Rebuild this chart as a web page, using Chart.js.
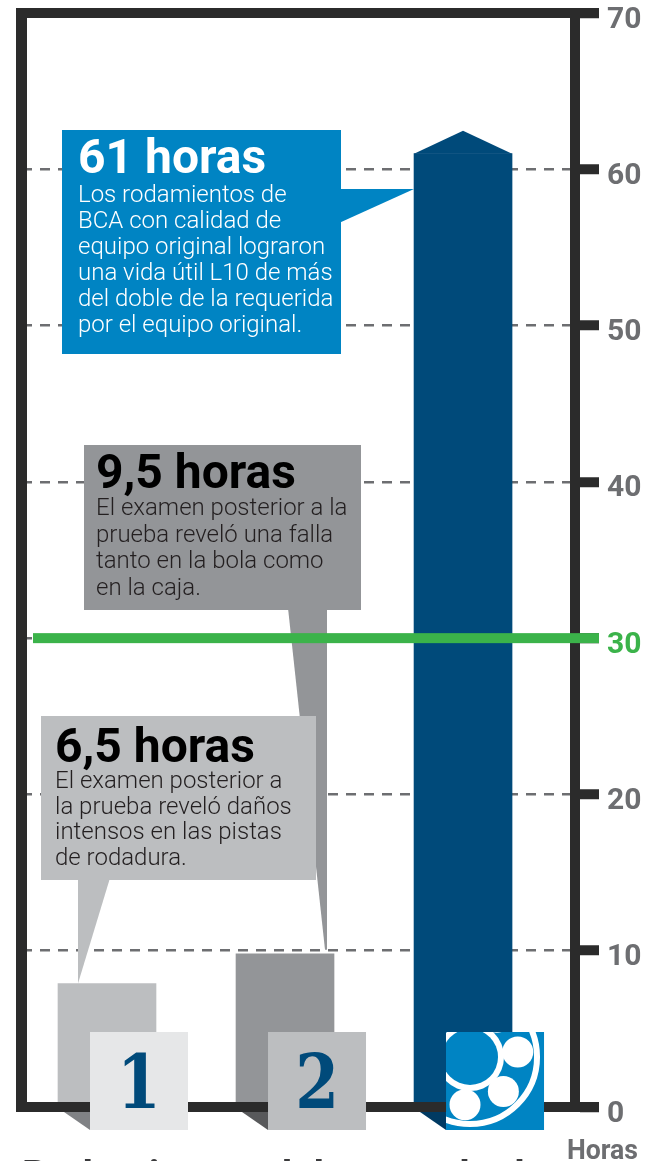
<!DOCTYPE html>
<html lang="es">
<head>
<meta charset="utf-8">
<title>Vida útil L10 - horas</title>
<script src="https://cdn.jsdelivr.net/npm/chart.js@4.4.1/dist/chart.umd.min.js"></script>
<style>
    html, body { margin: 0; padding: 0; background: #fff; }
    #wrap { position: relative; width: 656px; height: 1161px; overflow: hidden; }
</style>
</head>
<body>
<div id="wrap"><canvas id="horasChart"></canvas></div>
<script>
// Datos del gráfico
const categorias = ['1', '2', 'BCA'];
const horas = [7.9, 9.8, 61];
const ticksHoras = [0, 10, 20, 30, 40, 50, 60, 70];
const limiteRequerido = 30;
const titulos = ['6,5 horas', '9,5 horas', '61 horas'];
const textos = [
    ['El examen posterior a', 'la prueba reveló daños', 'intensos en las pistas', 'de rodadura.'],
    ['El examen posterior a la', 'prueba reveló una falla', 'tanto en la bola como', 'en la caja.'],
    ['Los rodamientos de', 'BCA con calidad de', 'equipo original lograron', 'una vida útil L10 de más', 'del doble de la requerida', 'por el equipo original.']
];

// Colores
const coloresBarras = ['#bcbec0', '#939598', '#004a7a'];
const coloresSombra = ['#808285', '#58595b', '#003a62'];
const coloresEtiqueta = ['#e6e7e8', '#bcbec0', '#0084c3'];
const negro = '#2b2b2b';
const gris = '#6d6e71';
const verde = '#3bb34a';

// Cajas de texto (posición en píxeles)
const cajas = [
    { x: 41, y: 716, w: 275, h: 164, fondo: '#bcbec0', tx: 55, ty: 762, by: 788, lh: 25.7, titulo: '#000', texto: '#231f20' },
    { x: 84, y: 445, w: 277, h: 165, fondo: '#939598', tx: 96, ty: 488, by: 515, lh: 26.5, titulo: '#000', texto: '#231f20' },
    { x: 62, y: 130, w: 279, h: 224, fondo: '#0084c3', tx: 78, ty: 173, by: 202, lh: 26, titulo: '#fff', texto: '#fff' }
];

Chart.defaults.font.family = 'Roboto, "Open Sans", sans-serif';

function poligono(ctx, pts, color) {
    ctx.beginPath();
    ctx.moveTo(pts[0][0], pts[0][1]);
    for (let i = 1; i < pts.length; i++) ctx.lineTo(pts[i][0], pts[i][1]);
    ctx.closePath();
    ctx.fillStyle = color;
    ctx.fill();
}

function dibujarCaja(ctx, c, i) {
    ctx.fillStyle = c.fondo;
    ctx.fillRect(c.x, c.y, c.w, c.h);
    ctx.textAlign = 'left';
    ctx.textBaseline = 'alphabetic';
    ctx.fillStyle = c.titulo;
    ctx.font = 'bold 48px Roboto';
    ctx.fillText(titulos[i], c.tx, c.ty);
    ctx.fillStyle = c.texto;
    ctx.font = '300 24px Roboto';
    textos[i].forEach((linea, k) => ctx.fillText(linea, c.tx, c.by + k * c.lh));
}

// Icono del rodamiento
function dibujarRodamiento(ctx, x0, y0, lado) {
    ctx.save();
    ctx.fillStyle = '#0084c3';
    ctx.fillRect(x0, y0, lado, lado);
    ctx.beginPath();
    ctx.rect(x0, y0, lado, lado);
    ctx.clip();
    const cx = x0 + 24, cy = y0 + 25;
    ctx.strokeStyle = '#fff';
    ctx.lineWidth = 6;
    ctx.beginPath();
    ctx.arc(cx, cy, 67, 0, Math.PI * 2);
    ctx.stroke();
    ctx.fillStyle = '#fff';
    [96, 46, -6, -56, 146].forEach(a => {
        const r = a * Math.PI / 180;
        ctx.beginPath();
        ctx.arc(cx + 48 * Math.cos(r), cy + 48 * Math.sin(r), 15.5, 0, Math.PI * 2);
        ctx.fill();
    });
    ctx.beginPath();
    ctx.arc(cx, cy, 34, 0, Math.PI * 2);
    ctx.fill();
    ctx.fillStyle = '#0084c3';
    ctx.beginPath();
    ctx.arc(cx, cy, 28, 0, Math.PI * 2);
    ctx.fill();
    ctx.restore();
}

const decoracion = {
    id: 'decoracion',
    afterDatasetsDraw(chart) {
        const ctx = chart.ctx;
        const ca = chart.chartArea;
        const yScale = chart.scales.y;
        const barras = chart.getDatasetMeta(0).data;
        const y0 = yScale.getPixelForValue(0);
        ctx.save();

        // punta de flecha sobre la barra BCA
        const b3 = barras[2];
        poligono(ctx, [[b3.x - b3.width / 2, b3.y], [b3.x, b3.y - 23], [b3.x + b3.width / 2, b3.y]], coloresBarras[2]);

        // globo 2
        const b2 = barras[1];
        poligono(ctx, [[288, 608], [b2.x + 42, 608], [b2.x + 42, b2.y - 4], [b2.x + 40, b2.y - 4]], cajas[1].fondo);
        dibujarCaja(ctx, cajas[1], 1);
        // globo 1
        const b1 = barras[0];
        poligono(ctx, [[b1.x - 29, 878], [b1.x + 3, 878], [b1.x - 29, b1.y]], cajas[0].fondo);
        dibujarCaja(ctx, cajas[0], 0);
        // globo BCA
        poligono(ctx, [[339, 189], [b3.x - b3.width / 2, 189], [339, 223]], cajas[2].fondo);
        dibujarCaja(ctx, cajas[2], 2);

        // marco
        ctx.fillStyle = negro;
        ctx.fillRect(ca.left - 6, ca.top - 5, 11, y0 - ca.top + 10);
        ctx.fillRect(ca.left - 6, ca.top - 5, ca.right - ca.left + 30, 10);
        ctx.fillRect(ca.left - 6, y0 - 5, ca.right - ca.left + 30, 10);

        // línea de vida requerida
        const yv = yScale.getPixelForValue(limiteRequerido);
        ctx.fillStyle = verde;
        ctx.fillRect(ca.left + 11, yv - 5, ca.right - ca.left + 13, 10);

        // sombras y etiquetas
        barras.forEach((b, i) => {
            const izq = b.x - b.width / 2;
            poligono(ctx, [[izq + 6, y0 + 5], [izq + 32, y0 + 5], [izq + 32, y0 + 23]], coloresSombra[i]);
            if (i === 2) {
                dibujarRodamiento(ctx, izq + 32, y0 - 75, 98);
            } else {
                ctx.fillStyle = coloresEtiqueta[i];
                ctx.fillRect(izq + 32, y0 - 75, 98, 98);
                ctx.fillStyle = '#004a7a';
                ctx.font = 'bold 74px "DejaVu Serif"';
                ctx.textAlign = 'center';
                ctx.textBaseline = 'alphabetic';
                ctx.save();
                ctx.translate(izq + 81, y0 + 1);
                ctx.scale(0.85, 1);
                ctx.fillText(categorias[i], 0, 0);
                ctx.restore();
            }
        });

        // unidad del eje
        ctx.fillStyle = gris;
        ctx.font = 'bold 28px Roboto';
        ctx.textAlign = 'left';
        ctx.save();
        ctx.translate(ca.right - 8, y0 + 52);
        ctx.scale(0.95, 1);
        ctx.fillText('Horas', 0, 0);
        ctx.restore();

        // título inferior (cortado)
        ctx.fillStyle = '#3a3a3c';
        ctx.font = 'bold 40px Roboto';
        ctx.fillText('Rodamientos del mercado de repuesto', ca.left, y0 + 82);
        ctx.restore();
    }
};

const horasCtx = document.getElementById('horasChart');
const horasChart = new Chart(horasCtx, {
    type: 'bar',
    data: {
        datasets: [{
            label: 'Horas',
            data: horas.map((v, i) => ({ x: i + 1, y: v })),
            backgroundColor: coloresBarras,
            borderWidth: 0,
            barThickness: 98
        }]
    },
    options: {
        responsive: true,
        maintainAspectRatio: false,
        animation: false,
        layout: { padding: { left: 22, top: 13, right: 0, bottom: 54 } },
        plugins: { legend: { display: false }, tooltip: { enabled: false } },
        scales: {
            x: {
                type: 'linear',
                min: 0.5225,
                max: 3.629,
                offset: false,
                display: false
            },
            y: {
                position: 'right',
                min: 0,
                max: 70,
                afterBuildTicks(scale) {
                    scale.ticks = ticksHoras.map(v => ({ value: v }));
                },
                afterFit(scale) {
                    scale.width = 81;
                    scale.paddingTop = 0;
                    scale.paddingBottom = 0;
                },
                grid: {
                    color: gris,
                    lineWidth: 2.5,
                    tickColor: negro,
                    tickWidth: 10,
                    tickLength: 24
                },
                border: { display: true, color: negro, width: 10, dash: [10, 8] },
                ticks: {
                    padding: 8,
                    labelOffset: 7,
                    color: ctx => ctx.tick && ctx.tick.value === limiteRequerido ? verde : gris,
                    font: { size: 30, weight: 'bold' }
                }
            }
        }
    },
    plugins: [decoracion]
});
</script>
</body>
</html>
